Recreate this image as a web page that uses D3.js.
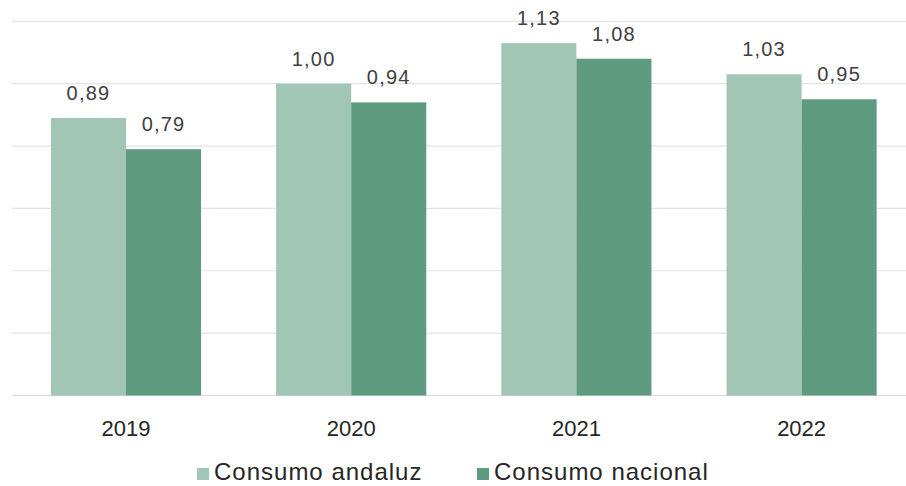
<!DOCTYPE html>
<html>
<head>
<meta charset="utf-8">
<script src="https://cdn.jsdelivr.net/npm/d3@7"></script>
<style>
    html, body { margin: 0; padding: 0; background: #ffffff; }
    svg { display: block; }
    text { font-family: "Liberation Sans", Arial, sans-serif; }
</style>
</head>
<body>
<svg id="chart" width="906" height="486"></svg>
<script>
const years = ['2019', '2020', '2021', '2022'];
const seriesNames = ['Consumo andaluz', 'Consumo nacional'];
const andaluz = [0.89, 1.00, 1.13, 1.03];
const nacional = [0.79, 0.94, 1.08, 0.95];
const yTicks = [0, 0.2, 0.4, 0.6, 0.8, 1.0, 1.2];
const colors = ['#a2c6b6', '#5f9b80'];

const svg = d3.select('#chart');
const width = +svg.attr('width');

const margin = {left: 13.4, right: 914.2, top: 21.3, bottom: 395.5};

const x0 = d3.scaleBand()
    .domain(years)
    .range([margin.left, margin.right])
    .paddingInner(1 / 3)
    .paddingOuter(1 / 6);

const x1 = d3.scaleBand()
    .domain(seriesNames)
    .range([0, x0.bandwidth()]);

const y = d3.scaleLinear()
    .domain([0, 1.2])
    .range([margin.bottom, margin.top]);

const fmt = (v) => d3.format('.2f')(v).replace('.', ',');

// gridlines
svg.append('g')
    .selectAll('line')
    .data(yTicks)
    .enter()
    .append('line')
    .attr('x1', 12)
    .attr('x2', width)
    .attr('y1', (d) => y(d))
    .attr('y2', (d) => y(d))
    .attr('stroke', (d) => d === 0 ? '#d9d9d9' : '#e3e3e3')
    .attr('stroke-width', 1.2);

const data = years.map((year, i) => ({
    year,
    values: [
        {name: seriesNames[0], value: andaluz[i], color: colors[0]},
        {name: seriesNames[1], value: nacional[i], color: colors[1]}
    ]
}));

const groups = svg.append('g')
    .selectAll('g')
    .data(data)
    .enter()
    .append('g')
    .attr('transform', (d) => `translate(${x0(d.year)}, 0)`);

groups.selectAll('rect')
    .data((d) => d.values)
    .enter()
    .append('rect')
    .attr('x', (d) => x1(d.name))
    .attr('width', x1.bandwidth())
    .attr('y', (d) => y(d.value))
    .attr('height', (d) => y(0) - y(d.value))
    .attr('fill', (d) => d.color);

groups.selectAll('text')
    .data((d) => d.values)
    .enter()
    .append('text')
    .attr('x', (d) => x1(d.name) + x1.bandwidth() / 2)
    .attr('y', (d) => y(d.value) - 18)
    .attr('text-anchor', 'middle')
    .attr('font-size', 20)
    .attr('letter-spacing', 1.2)
    .attr('fill', '#404040')
    .text((d) => fmt(d.value));

// x axis labels
const xAxis = svg.append('g')
    .attr('transform', `translate(0, ${margin.bottom})`)
    .call(d3.axisBottom(x0).tickSize(0).tickPadding(33));
xAxis.select('.domain').remove();
xAxis.selectAll('text')
    .attr('font-size', 22)
    .attr('font-family', '"Liberation Sans", Arial, sans-serif')
    .attr('fill', '#262626')
    .attr('dy', '0.32em');

// legend
const legendX = [197, 477];
const legend = svg.append('g')
    .selectAll('g')
    .data(seriesNames)
    .enter()
    .append('g')
    .attr('transform', (d, i) => `translate(${legendX[i]}, 468)`);
legend.append('rect')
    .attr('width', 12)
    .attr('height', 12)
    .attr('fill', (d, i) => colors[i]);
legend.append('text')
    .attr('x', 17)
    .attr('y', 12)
    .attr('font-size', 24)
    .attr('letter-spacing', 1)
    .attr('fill', '#262626')
    .text((d) => d);
</script>
</body>
</html>
